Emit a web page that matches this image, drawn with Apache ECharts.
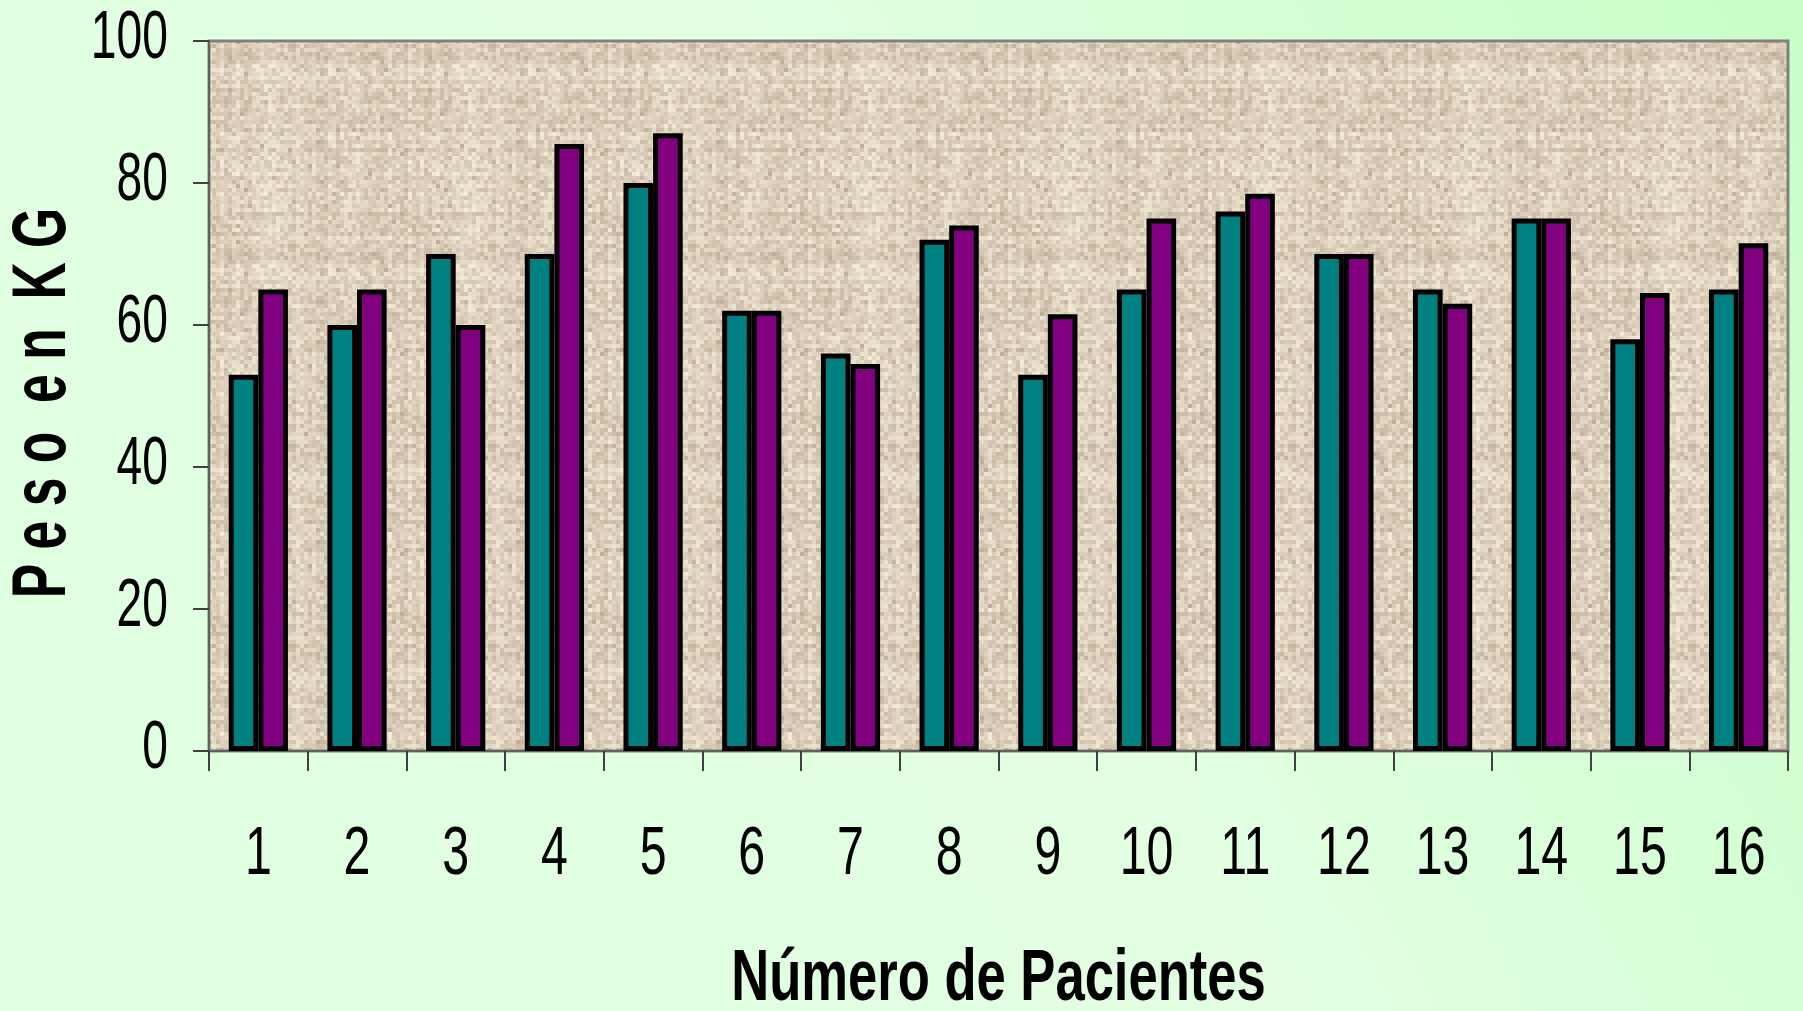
<!DOCTYPE html>
<html>
<head>
<meta charset="utf-8">
<title>Peso en KG por paciente</title>
<script src="https://cdn.jsdelivr.net/npm/echarts@6/dist/echarts.min.js"></script>
<style>
  html, body { margin: 0; padding: 0; }
  #chart { width: 1803px; height: 1011px; }
</style>
</head>
<body>
<div id="chart"></div>
<script>
// Pacientes y pesos (kg), dos mediciones por paciente
const pacientes = ['1', '2', '3', '4', '5', '6', '7', '8', '9', '10', '11', '12', '13', '14', '15', '16'];
const pesoInicial = [53, 60, 70, 70, 80, 62, 56, 72, 53, 65, 76, 70, 65, 75, 58, 65];
const pesoFinal = [65, 65, 60, 85.5, 87, 62, 54.5, 74, 61.5, 75, 78.5, 70, 63, 75, 64.5, 71.5];
const marcasY = [0, 20, 40, 60, 80, 100];
const tituloX = 'Número de Pacientes';
const tituloY = 'P e s o  e n  K G';

// Woven tan texture for the plot area (deterministic hash, no data involved)
function makeTexture() {
  const cell = 4, n = 50;
  const c = document.createElement('canvas');
  c.width = c.height = cell * n;
  const ctx = c.getContext('2d');
  const h = (a, b) => {
    const s = Math.sin(a * 12.9898 + b * 78.233) * 43758.5453;
    return s - Math.floor(s);
  };
  const rowTone = [], colTone = [];
  for (let i = 0; i < n; i++) { rowTone.push(h(i, 7.1) - 0.5); colTone.push(h(3.3, i) - 0.5); }
  for (let y = 0; y < n; y++) {
    for (let x = 0; x < n; x++) {
      let t = 0.6 * h(x, y) + 0.25 * rowTone[y] + 0.25 * colTone[x] + 0.25;
      if (h(x + 91, y + 17) > 0.965) t -= 0.45;
      t = Math.max(0, Math.min(1, t));
      const dark = [192, 174, 154], light = [244, 236, 216];
      const r = Math.round(dark[0] + (light[0] - dark[0]) * t);
      const g = Math.round(dark[1] + (light[1] - dark[1]) * t);
      const b = Math.round(dark[2] + (light[2] - dark[2]) * t);
      ctx.fillStyle = 'rgb(' + r + ',' + g + ',' + b + ')';
      ctx.fillRect(x * cell, y * cell, cell, cell);
    }
  }
  return c;
}

const family = "'Liberation Sans', Arial, sans-serif";

const chart = echarts.init(document.getElementById('chart'), null, { renderer: 'canvas' });
chart.setOption({
  animation: false,
  backgroundColor: {
    type: 'linear', x: 1, y: 0, x2: 0, y2: 1,
    colorStops: [
      { offset: 0, color: '#c8ffc8' },
      { offset: 0.45, color: '#e2ffe2' },
      { offset: 1, color: '#e0ffe0' }
    ]
  },
  grid: {
    left: 209, right: 15, top: 41, bottom: 260,
    outerBoundsMode: 'none',
    containLabel: false,
    show: true,
    backgroundColor: { image: makeTexture(), repeat: 'repeat' },
    borderColor: '#808080',
    borderWidth: 3
  },
  xAxis: {
    type: 'category',
    data: pacientes,
    axisLine: { lineStyle: { color: '#606060', width: 2 } },
    axisTick: { show: true, length: 20, lineStyle: { color: '#404040', width: 2 } },
    axisLabel: { show: false }
  },
  yAxis: {
    type: 'value',
    min: 0, max: 100, interval: 20,
    splitLine: { show: false },
    axisLine: { show: true, lineStyle: { color: '#606060', width: 2 } },
    axisTick: { show: true, length: 16, lineStyle: { color: '#404040', width: 2 } },
    axisLabel: { show: false }
  },
  series: [
    {
      type: 'bar',
      data: pesoInicial,
      barGap: '0%',
      barCategoryGap: '40%',
      itemStyle: { color: '#008080', borderColor: '#000', borderWidth: 5 }
    },
    {
      type: 'bar',
      data: pesoFinal,
      barGap: '0%',
      barCategoryGap: '40%',
      itemStyle: { color: '#800080', borderColor: '#000', borderWidth: 5 }
    }
  ]
});

// Tall, condensed tick labels and titles, placed through the axis scales
const gridRect = chart.getModel().getComponent('grid', 0).coordinateSystem.getRect();
const textos = [];
marcasY.forEach(v => {
  const y = chart.convertToPixel({ yAxisIndex: 0 }, v);
  textos.push({
    type: 'text', x: gridRect.x - 41, y: y - 2, scaleX: 0.68, silent: true,
    style: { text: String(v), font: '68px ' + family, fill: '#000', align: 'right', verticalAlign: 'middle' }
  });
});
pacientes.forEach(p => {
  const x = chart.convertToPixel({ xAxisIndex: 0 }, p);
  textos.push({
    type: 'text', x: x, y: gridRect.y + gridRect.height + 104, scaleX: 0.7, silent: true,
    style: { text: p, font: '69px ' + family, fill: '#000', align: 'center', verticalAlign: 'middle' }
  });
});
textos.push({
  type: 'text', x: gridRect.x + gridRect.width / 2, y: 980, scaleX: 0.73, silent: true,
  style: { text: tituloX, font: 'bold 72px ' + family, fill: '#000', align: 'center', verticalAlign: 'middle' }
});
textos.push({
  type: 'text', x: 44, y: 403, rotation: Math.PI / 2, scaleX: 0.68, silent: true,
  style: { text: tituloY, font: 'bold 76px ' + family, fill: '#000', align: 'center', verticalAlign: 'middle' }
});
chart.setOption({ graphic: { elements: textos } });
</script>
</body>
</html>
